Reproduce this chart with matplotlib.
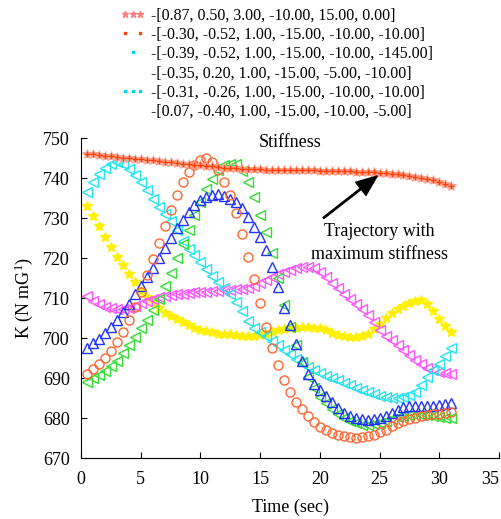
import matplotlib.pyplot as plt
from matplotlib.lines import Line2D
from matplotlib.legend_handler import HandlerLine2D
import numpy as np

plt.rcParams['font.family'] = ['Liberation Serif', 'DejaVu Serif']
plt.rcParams['mathtext.fontset'] = 'custom'
plt.rcParams['mathtext.rm'] = 'Liberation Serif'
plt.rcParams['mathtext.it'] = 'Liberation Serif:italic'

# sampling times (sec)
t = np.arange(0.5, 31.01, 0.5)

# stiffness trajectories (N mG^1)
k_max = [746.0, 745.9, 745.7, 745.6, 745.4, 745.3, 745.1, 745.0, 744.8, 744.7,
         744.5, 744.4, 744.2, 744.1, 743.9, 743.8, 743.6, 743.5, 743.3, 743.2,
         743.0, 742.9, 742.7, 742.6, 742.5, 742.4, 742.3, 742.3, 742.2, 742.2,
         742.1, 742.1, 742.1, 742.0, 742.0, 742.0, 741.9, 741.9, 741.9, 741.8,
         741.8, 741.8, 741.7, 741.7, 741.7, 741.6, 741.6, 741.5, 741.4, 741.3,
         741.2, 741.0, 740.9, 740.7, 740.5, 740.3, 740.0, 739.7, 739.4, 739.0,
         738.6, 738.1]
k_circ = [691.0, 692.2, 693.4, 694.9, 696.7, 699.1, 701.6, 704.5, 707.8, 711.6,
          715.8, 719.7, 723.7, 728.0, 732.0, 735.8, 738.9, 741.4, 743.3, 744.5,
          744.9, 744.0, 742.0, 739.1, 735.8, 731.2, 726.0, 720.3, 714.7, 708.7,
          702.8, 697.4, 693.3, 689.5, 686.6, 684.1, 682.2, 680.5, 679.1, 677.8,
          677.0, 676.3, 675.8, 675.4, 675.2, 675.1, 675.2, 675.4, 675.8, 676.4,
          677.1, 677.9, 678.7, 679.3, 679.8, 680.1, 680.4, 680.7, 680.9, 681.1,
          681.3, 681.5]
k_blue = [697.4, 698.7, 699.8, 701.3, 702.8, 704.4, 706.5, 708.4, 711.0, 713.0,
          715.3, 717.4, 719.9, 722.4, 724.9, 727.4, 729.5, 731.6, 733.3, 734.5,
          735.3, 735.8, 735.9, 735.5, 734.8, 733.9, 732.4, 730.3, 727.8, 725.2,
          722.0, 717.8, 712.8, 707.5, 703.2, 698.5, 694.3, 691.0, 688.6, 687.0,
          685.6, 684.0, 682.6, 681.3, 680.5, 679.9, 679.7, 679.6, 679.7, 680.0,
          680.6, 681.3, 682.1, 682.7, 682.9, 683.0, 683.0, 683.0, 683.1, 683.3,
          683.5, 683.8]
k_green = [689.1, 689.9, 690.8, 691.8, 693.0, 694.3, 696.3, 698.3, 700.3, 702.4,
           704.5, 707.0, 709.8, 713.0, 716.2, 719.9, 723.5, 727.0, 730.7, 734.1,
           737.2, 739.8, 742.0, 743.3, 743.6, 743.4, 741.8, 739.0, 735.2, 730.8,
           726.4, 721.3, 715.0, 708.3, 702.8, 698.3, 694.1, 690.3, 687.4, 685.2,
           683.8, 682.3, 681.1, 680.0, 679.3, 678.7, 678.3, 678.2, 678.4, 678.8,
           679.2, 679.7, 680.2, 680.6, 680.8, 680.8, 680.8, 680.7, 680.5, 680.3,
           680.1, 679.9]
k_cyan = [736.6, 739.1, 741.0, 742.5, 743.5, 743.9, 743.5, 742.3, 740.8, 739.0,
          737.0, 734.8, 732.8, 731.0, 729.2, 727.0, 724.2, 722.3, 720.8, 719.0,
          717.2, 715.5, 713.9, 712.5, 711.0, 709.0, 706.8, 704.2, 702.5, 701.4,
          700.4, 699.3, 698.2, 697.0, 695.9, 694.8, 693.7, 692.7, 691.9, 691.2,
          690.6, 690.0, 689.4, 688.8, 688.2, 687.6, 687.0, 686.4, 685.9, 685.5,
          685.2, 685.1, 685.1, 685.2, 685.7, 686.6, 688.3, 690.3, 691.9, 693.5,
          695.4, 697.4]
k_mag = [710.4, 709.3, 708.5, 707.8, 707.4, 707.2, 707.3, 707.6, 708.1, 708.7,
         709.3, 709.8, 710.2, 710.5, 710.8, 711.0, 711.1, 711.3, 711.4, 711.5,
         711.6, 711.7, 711.8, 711.9, 712.0, 712.2, 712.3, 712.5, 713.0, 713.7,
         714.5, 715.2, 715.9, 716.5, 717.0, 717.4, 717.7, 717.8, 717.6, 716.5,
         715.2, 713.8, 712.4, 711.1, 709.8, 708.5, 707.2, 705.8, 704.0, 702.1,
         700.6, 699.4, 698.2, 697.0, 695.8, 694.6, 693.5, 692.6, 691.9, 691.5,
         691.2, 691.1]
k_yel = [733.0, 730.5, 728.0, 725.3, 722.8, 720.3, 718.2, 716.0, 714.1, 711.8,
         710.2, 708.9, 707.4, 706.3, 705.4, 704.7, 703.9, 703.2, 702.5, 702.0,
         701.7, 701.4, 701.1, 701.0, 700.9, 700.8, 700.6, 700.5, 700.6, 700.8,
         701.1, 701.5, 701.9, 702.2, 702.4, 702.6, 702.7, 702.8, 702.6, 702.4,
         701.9, 701.3, 700.8, 700.4, 700.2, 700.2, 700.5, 701.1, 702.2, 703.6,
         705.0, 706.2, 707.2, 708.0, 708.8, 709.3, 709.4, 708.4, 706.8, 704.8,
         703.0, 701.5]

labels = ['-[0.87, 0.50, 3.00, -10.00, 15.00, 0.00]',
          '-[-0.30, -0.52, 1.00, -15.00, -10.00, -10.00]',
          '-[-0.39, -0.52, 1.00, -15.00, -10.00, -145.00]',
          '-[-0.35, 0.20, 1.00, -15.00, -5.00, -10.00]',
          '-[-0.31, -0.26, 1.00, -15.00, -10.00, -10.00]',
          '-[0.07, -0.40, 1.00, -15.00, -10.00, -5.00]']

fig = plt.figure(figsize=(5.02, 5.19), dpi=100)
ax = fig.add_axes([0.1614, 0.1175, 0.8327, 0.6166])

ax.plot(t, k_yel, ls='none', marker='*', ms=7, color='#FFF000', mew=1)
ax.plot(t, k_mag, ls='none', marker='<', ms=7, mfc='none', mec='#FF55FF', mew=1)
ax.plot(t, k_cyan, ls='none', marker='<', ms=7, mfc='none', mec='#22E5F0', mew=1)
ax.plot(t, k_green, ls='none', marker='<', ms=7, mfc='none', mec='#33DD33', mew=1)
ax.plot(t, k_blue, ls='none', marker='^', ms=7, mfc='none', mec='#2233FF', mew=1)
ax.plot(t, k_circ, ls='none', marker='o', ms=6.5, mfc='none', mec='#FF6633', mew=1)
ax.plot(t, k_max, ls='none', marker='*', ms=7, color='#FFA090', mew=0.6)
ax.plot(t, k_max, ls='none', marker='+', ms=5, color='#FF4000', mew=1)

ax.set_xlim(0, 35)
ax.set_ylim(670, 750)
ax.set_xticks(range(0, 36, 5))
ax.set_yticks(range(670, 751, 10))
ax.spines['top'].set_visible(False)
ax.spines['right'].set_visible(False)
ax.tick_params(direction='in', length=4, labelsize=13)
ax.tick_params(axis='x', pad=9)
ax.tick_params(axis='y', pad=8)
ax.get_xticklabels()[-1].set_horizontalalignment('right')
ax.set_xlabel('Time (sec)', fontsize=13, labelpad=8)
ax.set_ylabel('K (N mG$^{1}$)', fontsize=13, labelpad=6)

ax.text(17.5, 749, 'Stiffness', fontsize=13, ha='center', va='center')
ax.annotate('', xy=(24.8, 740.5), xytext=(20.3, 730),
            arrowprops=dict(facecolor='black', edgecolor='black', width=1.0,
                            headwidth=12, headlength=15))
ax.text(25.0, 723.8, 'Trajectory with\nmaximum stiffness', fontsize=13,
        ha='center', va='center', linespacing=1.45)

# legend with the odd marker sets of the original figure
handles = [
    Line2D([], [], ls='none', marker='*', ms=5, color='#FF8080'),
    Line2D([], [], ls='none', marker='s', ms=1.5, color='#FF4000'),
    Line2D([], [], ls='none', marker='s', ms=1.5, color='#00D8E8'),
    Line2D([], [], ls='none', marker='none'),
    Line2D([], [], ls='none', marker='s', ms=1.5, color='#00D8E8'),
    Line2D([], [], ls='none', marker='none'),
]
hmap = {handles[0]: HandlerLine2D(numpoints=3),
        handles[1]: HandlerLine2D(numpoints=2),
        handles[2]: HandlerLine2D(numpoints=1),
        handles[4]: HandlerLine2D(numpoints=3)}
fig.legend(handles, labels, handler_map=hmap, loc='upper left',
           bbox_to_anchor=(0.215, 1.01), frameon=False, fontsize=11.5,
           handlelength=1.5, handletextpad=0.4, labelspacing=0.2, borderpad=0.3)

plt.savefig('out.png', dpi=100)
